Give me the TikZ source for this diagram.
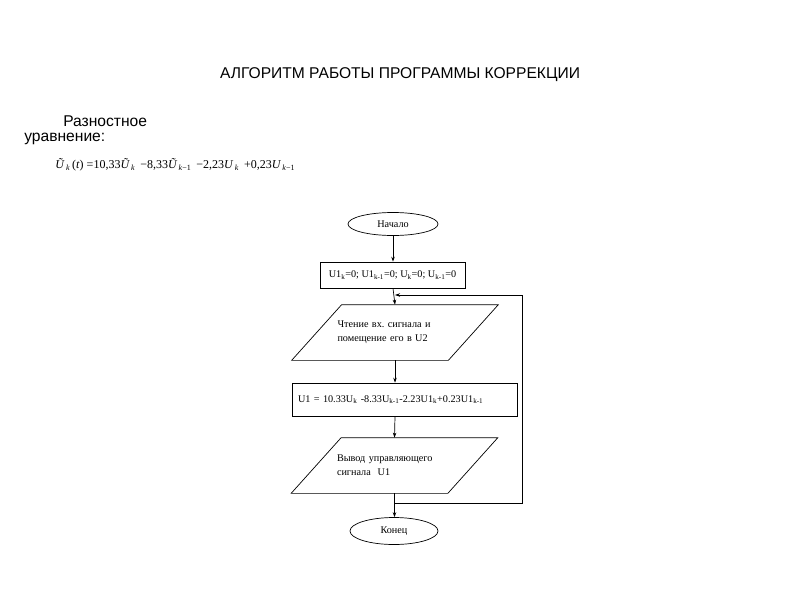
\documentclass[tikz,border=0pt]{standalone}
\usepackage{fontspec}
\setmainfont{Liberation Serif}
\newfontfamily\arialf{Liberation Sans}
\usetikzlibrary{shapes.geometric,arrows.meta,calc}
\frenchspacing
\begin{document}
\begin{tikzpicture}[x=1pt,y=-1pt,
  line width=0.7pt,
  flow/.style={font=\fontsize{10.2}{14}\selectfont},
  term/.style={flow,draw,ellipse,inner sep=0pt},
  proc/.style={flow,draw,rectangle,inner sep=0pt},
  iobox/.style={flow,rectangle,inner sep=0pt,align=left},
  arr/.style={-{Stealth[length=5pt,width=3.5pt]}},
  head/.style={font=\arialf\fontsize{15.6}{18}\selectfont}
]
\useasboundingbox (0,0) rectangle (800,600);

\node[head] (title) at (400,75) {АЛГОРИТМ РАБОТЫ ПРОГРАММЫ КОРРЕКЦИИ};
\node[head,anchor=west,inner sep=0pt] (t1) at (63,121) {Разностное};
\node[head,anchor=west,inner sep=0pt] (t2) at (24,139) {уравнение:};
\node[anchor=west,inner sep=0pt,font=\fontsize{12}{14}\selectfont] (eq) at (55,165)
 {\textit{Ũ}\textsubscript{\,\textit{k}}\,(\textit{t}) =10,33\textit{Ũ}\textsubscript{\,\textit{k}}\, −8,33\textit{Ũ}\textsubscript{\,\textit{k}−1}\, −2,23\textit{U}\textsubscript{\,\textit{k}}\, +0,23\textit{U}\textsubscript{\,\textit{k}−1}};

\node[term,minimum width=90,minimum height=23] (start) at (393,224) {Начало};
\node[proc,minimum width=145,minimum height=26] (init) at (392.5,275)
 {U1\textsubscript{k}=0; U1\textsubscript{k-1}=0; U\textsubscript{k}=0; U\textsubscript{k-1}=0};
\node[iobox,minimum width=206,minimum height=55,text width=115] (read) at (395,332.5)
 {Чтение вх. сигнала и\\помещение его в U2};
\draw ($(read.north west)+(50,0)$) -- (read.north east) -- ($(read.south east)+(-50,0)$) -- (read.south west) -- cycle;
\node[proc,minimum width=225,minimum height=33,text width=213,align=left] (calc) at (404.5,399.5)
 {U1 = 10.33U\textsubscript{k} -8.33U\textsubscript{k-1}-2.23U1\textsubscript{k}+0.23U1\textsubscript{k-1}};
\node[iobox,minimum width=206,minimum height=55,text width=115] (out) at (394.5,465.5)
 {Вывод управляющего\\сигнала\ \ U1};
\draw ($(out.north west)+(50,0)$) -- (out.north east) -- ($(out.south east)+(-50,0)$) -- (out.south west) -- cycle;
\node[term,minimum width=88,minimum height=27] (end) at (394,531) {Конец};

\coordinate (loopin) at (395,295);
\coordinate (loopout) at (395,503);
\coordinate (lr) at (522,503);
\coordinate (ur) at (522,295);

\draw[arr] (start.south) -- (start.south |- init.north);
\draw[arr] (start.south |- init.south) -- (read.north);
\draw[arr] (read.south) -- (read.south |- calc.north);
\draw[arr] (read.south |- calc.south) -- (out.north);
\draw[arr] (out.south) -- (out.south |- end.north);
\draw[arr] (loopout) -- (lr) -- (ur) -- (loopin);
\end{tikzpicture}
\end{document}
